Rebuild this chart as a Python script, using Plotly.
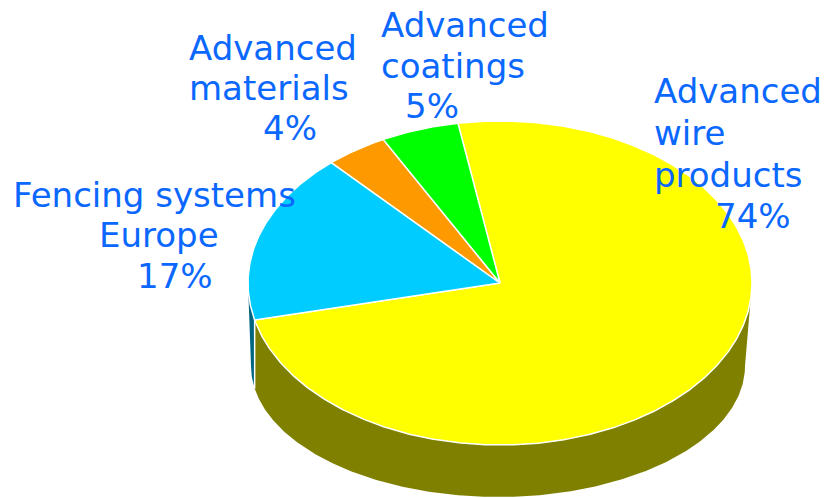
import numpy as np
import plotly.graph_objects as go

# Segment shares (%), drawn clockwise from the start angle
segments = ["Advanced wire products", "Fencing systems Europe", "Advanced materials", "Advanced coatings"]
values = [74, 17, 4, 5]
label_lines = [
    ["Advanced", "wire", "products"],
    ["Fencing systems", "Europe"],
    ["Advanced", "materials"],
    ["Advanced", "coatings"],
]

# Styling
top_colors = ["#FFFF00", "#00CCFF", "#FF9900", "#00FF00"]
side_colors = ["#808000", "#006680", "#804C00", "#008000"]
text_color = "#0A68FF"
font_family = "DejaVu Sans"
font_size = 34

# Pie geometry in page pixels (y grows downwards)
W, H = 825, 498
start_angle = -9.6          # degrees, clockwise from 12 o'clock
top_c = (500.0, 283.0)
top_r = (252.0, 162.0)
bot_c = (498.0, 366.0)
bot_r = (247.0, 131.0)

# Label placement: left x of each line and its baseline y
label_x = [[653, 653, 653, 714], [12, 98, 136], [188, 188, 262], [380, 380, 404]]
label_base = [[103, 145, 187, 228], [207, 247, 288], [60, 100, 140], [37, 78, 118]]


def ellipse_pts(center, radii, a0, a1, n=None):
    if n is None:
        n = max(2, int(abs(a1 - a0) * 2) + 2)
    t = np.radians(np.linspace(a0, a1, n))
    x = center[0] + radii[0] * np.sin(t)
    y = center[1] - radii[1] * np.cos(t)
    return x, y


def bottom_angle(a):
    """Angle on the base ellipse lying straight below the top-rim point at angle a
    (front half only), so the wall seams run vertically."""
    x = top_c[0] + top_r[0] * np.sin(np.radians(a))
    s = np.clip((x - bot_c[0]) / bot_r[0], -1.0, 1.0)
    return 180.0 - np.degrees(np.arcsin(s))


total = float(sum(values))
bounds = [start_angle]
for v in values:
    bounds.append(bounds[-1] + 360.0 * v / total)

fig = go.Figure()

# Side walls: only the front half (90..270 degrees) faces the viewer
for i in range(len(values)):
    a0, a1 = bounds[i], bounds[i + 1]
    s, e = max(a0, 90.0), min(a1, 270.0)
    if e <= s:
        continue
    tx, ty = ellipse_pts(top_c, top_r, s, e)
    bx, by = ellipse_pts(bot_c, bot_r, bottom_angle(e), bottom_angle(s))
    xs = np.concatenate([tx, bx, tx[:1]])
    ys = np.concatenate([ty, by, ty[:1]])
    fig.add_trace(go.Scatter(
        x=xs, y=ys, mode="lines", fill="toself",
        fillcolor=side_colors[i], line=dict(color=side_colors[i], width=0),
        hoverinfo="skip", showlegend=False,
    ))

# White seams where two walls meet
for a in bounds[1:-1]:
    if 90.0 < a < 270.0:
        tx, ty = ellipse_pts(top_c, top_r, a, a, 1)
        bx, by = ellipse_pts(bot_c, bot_r, bottom_angle(a), bottom_angle(a), 1)
        fig.add_trace(go.Scatter(
            x=[tx[0], bx[0]], y=[ty[0], by[0]], mode="lines",
            line=dict(color="white", width=1.5),
            hoverinfo="skip", showlegend=False,
        ))

# Top faces
for i in range(len(values)):
    a0, a1 = bounds[i], bounds[i + 1]
    ax, ay = ellipse_pts(top_c, top_r, a0, a1)
    xs = np.concatenate([[top_c[0]], ax, [top_c[0]]])
    ys = np.concatenate([[top_c[1]], ay, [top_c[1]]])
    fig.add_trace(go.Scatter(
        x=xs, y=ys, mode="lines", fill="toself",
        fillcolor=top_colors[i], line=dict(color="white", width=1.5),
        hoverinfo="skip", showlegend=False, name=segments[i],
    ))

# Labels, one annotation per line so the line spacing stays tight
mid_shift = 0.346 * font_size
annotations = []
for i, lines in enumerate(label_lines):
    texts = lines + [f"{values[i]}%"]
    for j, t in enumerate(texts):
        annotations.append(dict(
            x=label_x[i][j], y=label_base[i][j] - mid_shift,
            xref="x", yref="y", text=t, showarrow=False,
            xanchor="left", yanchor="middle", borderpad=0,
            font=dict(family=font_family, size=font_size, color=text_color),
        ))

fig.update_layout(
    width=W, height=H,
    margin=dict(l=0, r=0, t=0, b=0),
    paper_bgcolor="white", plot_bgcolor="white",
    xaxis=dict(range=[0, W], visible=False, fixedrange=True),
    yaxis=dict(range=[H, 0], visible=False, fixedrange=True),
    annotations=annotations,
    showlegend=False,
)

fig.write_html("out.html", config={"displayModeBar": False})
